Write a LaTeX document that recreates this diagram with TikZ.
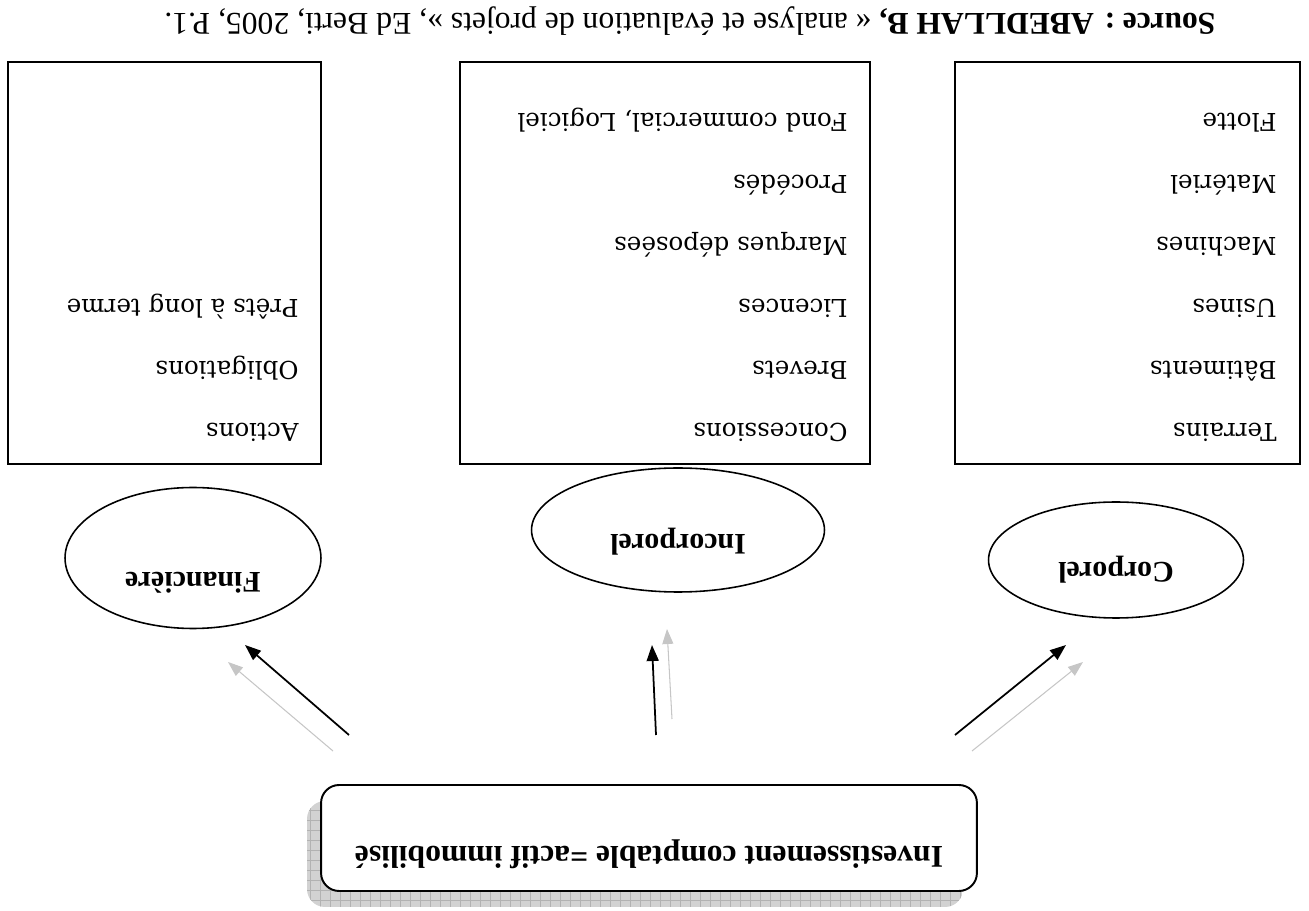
\documentclass[tikz,border=0pt]{standalone}
\usepackage{fontspec}
\setmainfont{Liberation Serif}
\newfontfamily\listfont{DejaVu Serif}
\usetikzlibrary{shapes.geometric,arrows.meta}

\tikzset{
  flip/.style={rotate=180},
  listbox/.style={draw, line width=1.1pt, inner sep=0pt},
  item/.style={flip, anchor=west, inner sep=0pt, text height=0.36cm, text depth=0cm,
    font=\listfont\fontsize{14}{16}\selectfont},
  kind/.style={flip, draw, ellipse, line width=0.9pt, inner sep=0pt, text height=0.45cm,
    font=\bfseries\fontsize{17}{20}\selectfont},
  link/.style={-{Triangle[length=0.32cm, width=0.24cm]}, line width=1pt},
  ghost/.style={-{Triangle[length=0.3cm, width=0.22cm]}, line width=0.6pt, gray!45},
}

\begin{document}
\begin{tikzpicture}[x=0.02cm, y=-0.02cm]
\useasboundingbox (0,0) rectangle (1309,911);
% title
\node[flip, inner sep=0pt, font=\fontsize{18}{20}\selectfont] (src) at (690, 21)
  {\textbf{Source : ABEDLLAH B,} « analyse et évaluation de projets », Ed Berti, 2005, P.1.};
% boxes
\node[listbox, minimum width=6.26cm, minimum height=8.04cm] (fin-box)  at (164.5, 263) {};
\node[listbox, minimum width=8.2cm,  minimum height=8.04cm] (inc-box)  at (665, 263) {};
\node[listbox, minimum width=6.9cm,  minimum height=8.04cm] (corp-box) at (1127.5, 263) {};
% items
\node[item] (fin-1) at (299, 433) {Actions};
    \node[item] (fin-2) at (299, 371) {Obligations};
    \node[item] (fin-3) at (299, 309) {Prêts à long terme};
\node[item] (inc-1) at (848, 433) {Concessions};
    \node[item] (inc-2) at (848, 371) {Brevets};
    \node[item] (inc-3) at (848, 309) {Licences};
    \node[item] (inc-4) at (848, 247) {Marques déposées};
    \node[item] (inc-5) at (848, 185) {Procédés};
    \node[item] (inc-6) at (848, 123) {Fond commercial, Logiciel};
\node[item] (corp-1) at (1277, 433) {Terrains};
    \node[item] (corp-2) at (1277, 371) {Bâtiments};
    \node[item] (corp-3) at (1277, 309) {Usines};
    \node[item] (corp-4) at (1277, 247) {Machines};
    \node[item] (corp-5) at (1277, 185) {Matériel};
    \node[item] (corp-6) at (1277, 123) {Flotte};
% ellipses
\node[kind, minimum width=5.12cm, minimum height=2.82cm, text depth=1.05cm] (fin)  at (193, 558)  {Financière};
\node[kind, minimum width=5.86cm, minimum height=2.48cm, text depth=0.65cm] (inc)  at (678, 530)  {Incorporel};
\node[kind, minimum width=5.1cm,  minimum height=2.32cm, text depth=0.57cm] (corp) at (1116, 560) {Corporel};
% shadow
\begin{scope}
  \clip[rounded corners=0.36cm] (307, 801) rectangle (963, 907);
  \fill[gray!35] (307, 801) rectangle (963, 907);
  \draw[gray!60, line width=0.3pt, step=0.2cm] (300, 795) grid (970, 915);
\end{scope}
\node[flip, draw, fill=white, rounded corners=0.36cm, line width=1.1pt, inner sep=0pt,
  minimum width=13.12cm, minimum height=2.12cm, text height=0.45cm, text depth=0.81cm,
  font=\bfseries\fontsize{18}{20}\selectfont] (inv) at (649, 838) {Investissement comptable =actif immobilisé};
% arrow ends
\coordinate (fin-tail)    at (349, 735);
\coordinate (fin-head)    at (245, 645);
\coordinate (fin-tail-g)  at (333, 751);
\coordinate (fin-head-g)  at (228, 662);
\coordinate (inc-tail)    at (656, 735);
\coordinate (inc-head)    at (652, 645);
\coordinate (inc-tail-g)  at (672, 719);
\coordinate (inc-head-g)  at (667, 629);
\coordinate (corp-tail)   at (955, 735);
\coordinate (corp-head)   at (1066, 645);
\coordinate (corp-tail-g) at (972, 751);
\coordinate (corp-head-g) at (1083, 662);
% arrows
\draw[ghost] (fin-tail-g)  -- (fin-head-g);
\draw[ghost] (inc-tail-g)  -- (inc-head-g);
\draw[ghost] (corp-tail-g) -- (corp-head-g);
\draw[link]  (fin-tail)    -- (fin-head);
\draw[link]  (inc-tail)    -- (inc-head);
\draw[link]  (corp-tail)   -- (corp-head);
\end{tikzpicture}
\end{document}
